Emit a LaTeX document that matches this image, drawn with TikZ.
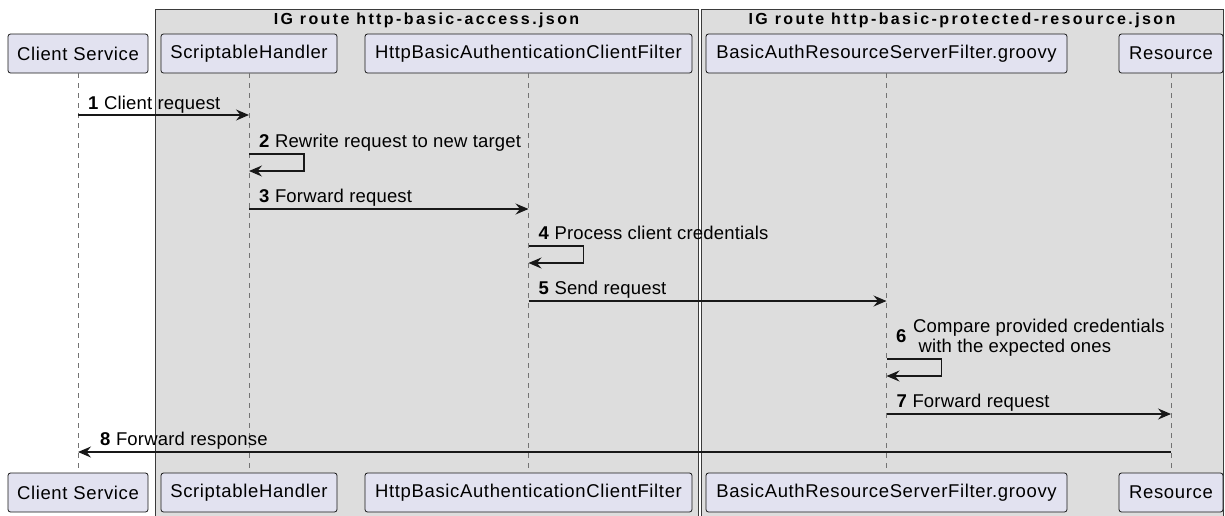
\documentclass[tikz,border=0pt]{standalone}
\usepackage{fontspec}
\setmainfont{Liberation Sans}
\usetikzlibrary{arrows.meta}

\definecolor{partfill}{HTML}{E2E2F0}
\definecolor{groupfill}{HTML}{DDDDDD}
\definecolor{inkclr}{HTML}{181818}

\tikzset{
  groupbox/.style={draw=inkclr!85, fill=groupfill, line width=0.9pt},
  grouptitle/.style={font=\fontsize{16}{18}\selectfont\bfseries\addfontfeatures{LetterSpace=15}, inner sep=0pt},
  part/.style={draw=inkclr, fill=partfill, rounded corners=2.5pt, line width=0.8pt,
    minimum height=39pt, inner sep=0pt, font=\fontsize{18.5}{20}\selectfont\addfontfeatures{LetterSpace=3.5}},
  lifeline/.style={draw=gray!90!black, line width=0.8pt, dash pattern=on 5pt off 5pt},
  msg/.style={draw=inkclr, line width=1.1pt, -{Stealth[length=13pt,width=11pt,inset=4.5pt]}},
  msglbl/.style={anchor=base west, inner sep=0pt, font=\fontsize{18.5}{20}\selectfont\addfontfeatures{LetterSpace=1}},
}

\begin{document}
\begin{tikzpicture}[x=1pt,y=-1pt]
\useasboundingbox (0,0) rectangle (1225,515);

% the two IG route boxes
\draw[groupbox] (155,9) rectangle (698,522);
\draw[groupbox] (701,9) rectangle (1223.5,522);
\node[grouptitle] (g1) at (426.5,20) {IG route http-basic-access.json};
\node[grouptitle] (g2) at (962,20) {IG route http-basic-protected-resource.json};

% participants, top and bottom, with lifelines
\foreach \name/\x/\w/\txt in {cs/78/140/Client Service, sh/249/176/ScriptableHandler,
    hf/528.5/327/HttpBasicAuthenticationClientFilter,
    bf/886.5/361/BasicAuthResourceServerFilter.groovy, rs/1171/104/Resource}{
  \node[part, minimum width=\w pt] (\name) at (\x,53.5) {\txt};
  \node[part, minimum width=\w pt] (\name-b) at (\x,492.5) {\txt};
  \draw[lifeline] (\name.south) -- (\name-b.north);
}

% 1
\coordinate (m1a) at (cs |- 0,115);
\coordinate (m1b) at (sh |- 0,115);
\draw[msg] (m1a) -- (m1b);
\node[msglbl] (l1) at ([xshift=10pt,yshift=6pt]m1a) {\textbf{1} Client request};

% 2
\coordinate (m2a) at (sh |- 0,154);
\coordinate (m2b) at (sh |- 0,171);
\draw[msg] (m2a) -- ++(55,0) -- ++(0,17) -- (m2b);
\node[msglbl] (l2) at ([xshift=10pt,yshift=7pt]m2a) {\textbf{2} Rewrite request to new target};

% 3
\coordinate (m3a) at (sh |- 0,209);
\coordinate (m3b) at (hf |- 0,209);
\draw[msg] (m3a) -- (m3b);
\node[msglbl] (l3) at ([xshift=10pt,yshift=7pt]m3a) {\textbf{3} Forward request};

% 4
\coordinate (m4a) at (hf |- 0,246);
\coordinate (m4b) at (hf |- 0,263);
\draw[msg] (m4a) -- ++(55,0) -- ++(0,17) -- (m4b);
\node[msglbl] (l4) at ([xshift=10pt,yshift=7pt]m4a) {\textbf{4} Process client credentials};

% 5
\coordinate (m5a) at (hf |- 0,301);
\coordinate (m5b) at (bf |- 0,301);
\draw[msg] (m5a) -- (m5b);
\node[msglbl] (l5) at ([xshift=10pt,yshift=7pt]m5a) {\textbf{5} Send request};

% 6
\coordinate (m6a) at (bf |- 0,359);
\coordinate (m6b) at (bf |- 0,376);
\draw[msg] (m6a) -- ++(55,0) -- ++(0,17) -- (m6b);
\node[msglbl] (n6) at (896,342) {\textbf{6}};
\node[msglbl] (l6) at (913,332) {Compare provided credentials};
\node[msglbl] (l6b) at (913,352) {\ with the expected ones};

% 7
\coordinate (m7a) at (bf |- 0,414);
\coordinate (m7b) at (rs |- 0,414);
\draw[msg] (m7a) -- (m7b);
\node[msglbl] (l7) at ([xshift=10pt,yshift=7pt]m7a) {\textbf{7} Forward request};

% 8
\coordinate (m8a) at (rs |- 0,452);
\coordinate (m8b) at (cs |- 0,452);
\draw[msg] (m8a) -- (m8b);
\node[msglbl] (l8) at ([xshift=22pt,yshift=7pt]m8b) {\textbf{8} Forward response};
\end{tikzpicture}
\end{document}
